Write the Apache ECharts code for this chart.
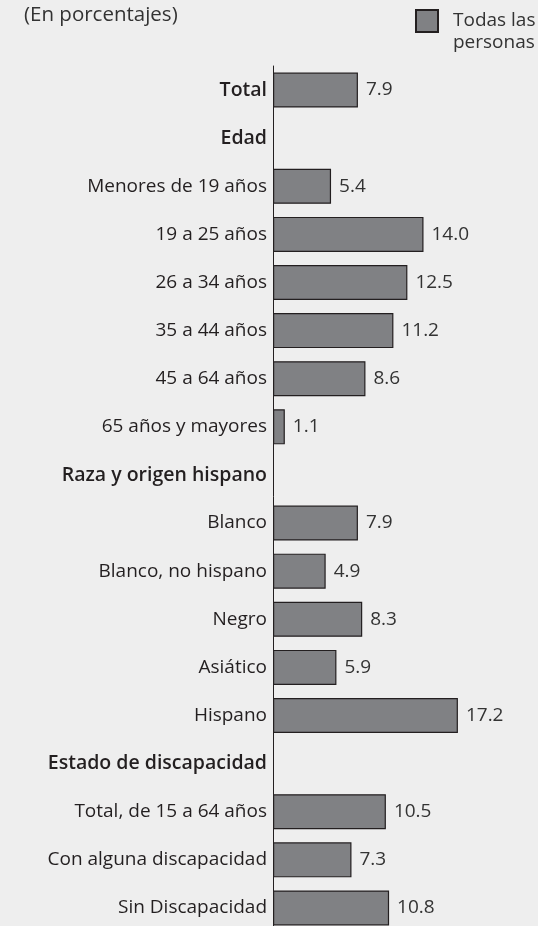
<!DOCTYPE html>
<html>
<head>
<meta charset="utf-8">
<script src="https://cdn.jsdelivr.net/npm/echarts@6/dist/echarts.min.js"></script>
<style>
  html, body { margin: 0; padding: 0; background: #eeeeee; }
  #chart { width: 538px; height: 926px; }
</style>
</head>
<body>
<div id="chart"></div>
<script>
// categories (top to bottom); headers have no bar
var categories = [
  'Total', 'Edad', 'Menores de 19 años', '19 a 25 años', '26 a 34 años',
  '35 a 44 años', '45 a 64 años', '65 años y mayores', 'Raza y origen hispano',
  'Blanco', 'Blanco, no hispano', 'Negro', 'Asiático', 'Hispano',
  'Estado de discapacidad', 'Total, de 15 a 64 años', 'Con alguna discapacidad',
  'Sin Discapacidad'
];
var headers = ['Total', 'Edad', 'Raza y origen hispano', 'Estado de discapacidad'];
var values = [7.9, null, 5.4, 14.0, 12.5, 11.2, 8.6, 1.1, null, 7.9, 4.9, 8.3, 5.9, 17.2, null, 10.5, 7.3, 10.8];
var seriesName = 'Todas las\npersonas';

var font = '"Open Sans", sans-serif';
var chart = echarts.init(document.getElementById('chart'));

chart.setOption({
  backgroundColor: '#eeeeee',
  animation: false,
  title: {
    text: '(En porcentajes)',
    left: 19,
    top: 0,
    textStyle: { color: '#333', fontFamily: font, fontWeight: 'normal', fontSize: 20.5 }
  },
  legend: {
    left: 415,
    top: -12,
    padding: 0,
    itemWidth: 22,
    itemHeight: 22,
    icon: 'rect',
    data: [seriesName],
    // blank first line keeps the box level with "Todas las"
    formatter: function (name) { return ' \n' + name; },
    textStyle: { color: '#333', fontFamily: font, fontSize: 19, lineHeight: 22, padding: [0, 0, 0, 10] }
  },
  grid: { left: 273, width: 215, top: 66, height: 866, outerBoundsMode: 'none' },
  xAxis: {
    type: 'value',
    min: 0,
    max: 20,
    show: false
  },
  yAxis: {
    type: 'category',
    inverse: true,
    data: categories,
    axisTick: { show: false },
    axisLine: { show: true, lineStyle: { color: '#231f20', width: 1 } },
    axisLabel: {
      margin: 6,
      color: '#231f20',
      fontFamily: font,
      fontSize: 19,
      formatter: function (v) {
        return headers.indexOf(v) >= 0 ? '{h|' + v + '}' : v;
      },
      rich: {
        h: { fontWeight: 600, fontFamily: font, fontSize: 19.5, color: '#231f20' }
      }
    }
  },
  series: [{
    name: seriesName,
    type: 'bar',
    barWidth: 35,
    data: values,
    itemStyle: { color: '#808184', borderColor: '#231f20', borderWidth: 1.2 },
    label: {
      show: true,
      position: 'right',
      distance: 8,
      color: '#333',
      fontFamily: font,
      fontSize: 19,
      formatter: function (p) { return p.value.toFixed(1); }
    }
  }]
});
</script>
</body>
</html>
